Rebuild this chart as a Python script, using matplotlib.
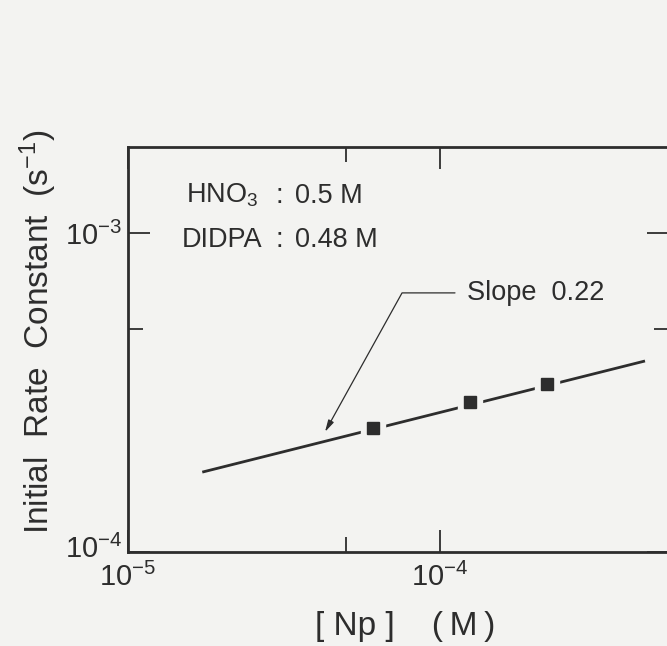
import matplotlib
matplotlib.use("Agg")
import matplotlib.pyplot as plt
import matplotlib.transforms as mtransforms
from matplotlib import font_manager as fm
import numpy as np

# ---- data ----
np_conc = [6.1e-5, 1.25e-4, 2.2e-4]          # [Np] (M)
rate_const = [2.45e-4, 2.95e-4, 3.36e-4]     # initial rate constant (s^-1)
fit_x = [1.73e-5, 4.54e-4]
fit_y = [1.78e-4, 3.97e-4]
xtick_vals = [1e-5, 1e-4]
xtick_labels = [r"$10^{-5}$", r"$10^{-4}$"]
ytick_vals = [1e-4, 1e-3]
ytick_labels = [r"$10^{-4}$", r"$10^{-3}$"]

names = {f.name for f in fm.fontManager.ttflist}
prefs = ["Liberation Sans", "Arimo", "DejaVu Sans"]
FONT = next(p for p in prefs if p in names or p == "DejaVu Sans")
plt.rcParams["font.family"] = [FONT, "DejaVu Sans"]
plt.rcParams["mathtext.fontset"] = "custom"
plt.rcParams["mathtext.rm"] = FONT
plt.rcParams["mathtext.it"] = FONT
plt.rcParams["mathtext.default"] = "rm"

INK = "#2d2d2d"
BG = "#f3f3f1"

fig = plt.figure(figsize=(6.67, 6.46), dpi=100, facecolor=BG)
ax = fig.add_axes([128/667, 1-552/646, (669-128)/667, (552-147)/646], facecolor=BG)
ax.set_xscale("log")
ax.set_yscale("log")
ax.set_xlim(1e-5, 10**(-5 + (669-128)/312))
ax.set_ylim(1e-4, 10**(-4 + (552-147)/319))

# fitted line
ax.plot(fit_x, fit_y, color=INK, lw=2.0, solid_capstyle="butt", zorder=2)
# gaps around markers
ax.plot(np_conc, rate_const, ls="none", marker="s", ms=17, mfc=BG, mec=BG, zorder=3)
ax.plot(np_conc, rate_const, ls="none", marker="s", ms=8.5, mfc=INK, mec=INK, zorder=4)

for s in ax.spines.values():
    s.set_color(INK)
    s.set_linewidth(2.0)

ax.xaxis.set_major_locator(matplotlib.ticker.FixedLocator(xtick_vals))
ax.xaxis.set_minor_locator(matplotlib.ticker.FixedLocator([5e-5]))
ax.yaxis.set_major_locator(matplotlib.ticker.FixedLocator(ytick_vals))
ax.yaxis.set_minor_locator(matplotlib.ticker.FixedLocator([5e-4]))
ax.set_xticklabels(xtick_labels)
ax.set_yticklabels(ytick_labels)
ax.xaxis.set_minor_formatter(matplotlib.ticker.NullFormatter())
ax.yaxis.set_minor_formatter(matplotlib.ticker.NullFormatter())
ax.tick_params(which="both", direction="in", top=True, right=True, color=INK,
               width=1.3, labelcolor=INK)
ax.tick_params(axis="y", which="major", labelsize=21, length=16, pad=4)
ax.tick_params(axis="x", which="major", labelsize=21, length=16, pad=8)
ax.tick_params(which="minor", length=11)
# lift the corner label slightly so it clears the x label below it
corner = ax.get_yticklabels()[0]
corner.set_transform(corner.get_transform() +
                     mtransforms.ScaledTranslation(0, 6/100, fig.dpi_scale_trans))

# axis labels
fig.text(38/667, 1-332/646, r"Initial  Rate  Constant  (s$^{-1}$)", rotation=90,
         ha="center", va="center", fontsize=24, color=INK)
fig.text(405/667, 1-626/646, "[ Np ]    (\u2009M\u2009)", ha="center", va="center",
         fontsize=24, color=INK)

# condition text
FS = 19.5
ax.text(0.107, 0.862, r"HNO$_3$", transform=ax.transAxes, fontsize=FS, color=INK, va="baseline")
ax.text(0.100, 0.753, "DIDPA", transform=ax.transAxes, fontsize=FS, color=INK, va="baseline")
ax.text(0.273, 0.862, ":", transform=ax.transAxes, fontsize=FS, color=INK, va="baseline")
ax.text(0.273, 0.753, ":", transform=ax.transAxes, fontsize=FS, color=INK, va="baseline")
ax.text(0.309, 0.862, "0.5 M", transform=ax.transAxes, fontsize=FS, color=INK, va="baseline")
ax.text(0.309, 0.753, "0.48 M", transform=ax.transAxes, fontsize=FS, color=INK, va="baseline")

# slope annotation
ax.annotate("", xy=(4.28e-5, 2.38e-4), xytext=(1.117e-4, 6.49e-4),
            arrowprops=dict(arrowstyle="-|>,head_length=0.7,head_width=0.18", color=INK, lw=0.9,
                            connectionstyle="angle,angleA=0,angleB=61,rad=0",
                            shrinkA=0, shrinkB=0))
ax.text(1.22e-4, 6.49e-4, "Slope  0.22", fontsize=FS, color=INK, ha="left", va="center")

fig.savefig("out.png", dpi=100, facecolor=BG)
